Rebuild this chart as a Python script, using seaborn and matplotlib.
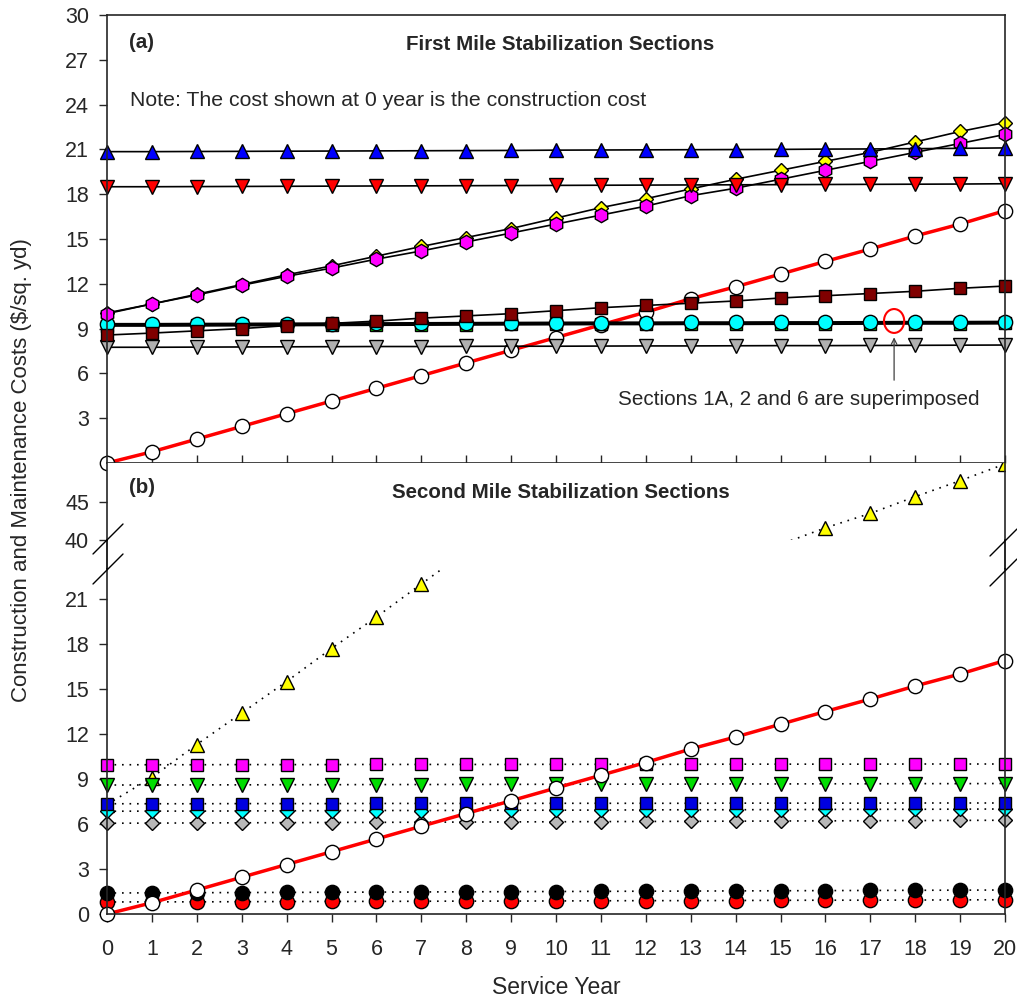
import matplotlib
matplotlib.use('Agg')
import matplotlib.pyplot as plt
import seaborn as sns
from matplotlib.lines import Line2D
from matplotlib.patches import Ellipse

# service years
years = list(range(21))

# (a) first mile sections
a_blue_up = [20.85, 20.85, 20.86, 20.87, 20.88, 20.89, 20.9, 20.91, 20.92, 20.93, 20.95,
             20.96, 20.97, 20.98, 20.99, 21.0, 21.02, 21.03, 21.05, 21.07, 21.1]
a_red_down = [18.5, 18.5, 18.51, 18.52, 18.53, 18.54, 18.55, 18.56, 18.57, 18.58, 18.59,
              18.6, 18.61, 18.62, 18.63, 18.64, 18.65, 18.66, 18.67, 18.68, 18.7]
a_yellow_dia = [10.05, 10.65, 11.3, 11.95, 12.6, 13.2, 13.85, 14.5, 15.1, 15.7, 16.4,
                17.1, 17.7, 18.35, 19.0, 19.6, 20.2, 20.8, 21.5, 22.2, 22.8]
a_pink_hex = [10.0, 10.65, 11.25, 11.9, 12.5, 13.05, 13.65, 14.2, 14.8, 15.4, 16.0,
              16.6, 17.2, 17.9, 18.4, 19.0, 19.6, 20.2, 20.8, 21.4, 22.0]
a_maroon_sq = [8.57, 8.7, 8.85, 9.0, 9.2, 9.35, 9.5, 9.7, 9.85, 10.0, 10.2,
               10.4, 10.55, 10.7, 10.85, 11.05, 11.2, 11.35, 11.5, 11.7, 11.85]
a_green_sq = [9.2, 9.2, 9.21, 9.22, 9.23, 9.24, 9.25, 9.26, 9.27, 9.28, 9.29,
              9.3, 9.3, 9.31, 9.31, 9.32, 9.32, 9.33, 9.34, 9.34, 9.35]
a_cyan_circ = [9.3, 9.3, 9.31, 9.32, 9.33, 9.34, 9.35, 9.36, 9.37, 9.38, 9.39,
               9.4, 9.4, 9.41, 9.41, 9.42, 9.42, 9.43, 9.44, 9.44, 9.45]
a_gray_down = [7.75, 7.75, 7.76, 7.77, 7.78, 7.79, 7.8, 7.8, 7.81, 7.82, 7.82,
               7.83, 7.84, 7.84, 7.85, 7.86, 7.86, 7.87, 7.88, 7.89, 7.9]
# control section, same in both panels
control = [0, 0.75, 1.6, 2.45, 3.3, 4.15, 5.0, 5.85, 6.7, 7.55, 8.4,
           9.25, 10.1, 11.0, 11.8, 12.65, 13.5, 14.33, 15.2, 16.0, 16.9]

# (b) second mile sections
b_magenta_sq = [9.95, 9.95, 9.95, 9.96, 9.96, 9.96, 9.97, 9.97, 9.97, 9.97, 9.98,
                9.98, 9.98, 9.98, 9.99, 9.99, 9.99, 9.99, 10.0, 10.0, 10.0]
b_green_down = [8.6, 8.6, 8.61, 8.61, 8.62, 8.62, 8.63, 8.63, 8.64, 8.64, 8.65,
                8.65, 8.66, 8.66, 8.67, 8.67, 8.68, 8.68, 8.69, 8.69, 8.7]
b_blue_sq = [7.35, 7.35, 7.35, 7.36, 7.36, 7.36, 7.37, 7.37, 7.37, 7.37, 7.38,
             7.38, 7.38, 7.38, 7.39, 7.39, 7.39, 7.39, 7.4, 7.4, 7.4]
b_cyan_dia = [6.85, 6.86, 6.86, 6.87, 6.88, 6.89, 6.9, 6.9, 6.91, 6.92, 6.92,
              6.93, 6.94, 6.95, 6.95, 6.96, 6.97, 6.98, 6.98, 6.99, 7.0]
b_gray_dia = [6.05, 6.06, 6.07, 6.08, 6.09, 6.1, 6.11, 6.12, 6.13, 6.14, 6.15,
              6.16, 6.17, 6.18, 6.19, 6.2, 6.21, 6.22, 6.23, 6.24, 6.25]
b_black_circ = [1.4, 1.41, 1.42, 1.43, 1.44, 1.45, 1.46, 1.47, 1.48, 1.49, 1.5,
                1.51, 1.52, 1.53, 1.54, 1.55, 1.56, 1.57, 1.58, 1.59, 1.6]
b_red_circ = [0.8, 0.81, 0.81, 0.82, 0.83, 0.84, 0.84, 0.85, 0.86, 0.86, 0.87,
              0.88, 0.89, 0.89, 0.9, 0.91, 0.92, 0.92, 0.93, 0.94, 0.95]
# yellow section: years 8-15 fall inside the axis break
b_yellow_years = [0, 1, 2, 3, 4, 5, 6, 7, 16, 17, 18, 19, 20]
b_yellow_tri = [7.3, 9.1, 11.3, 13.4, 15.5, 17.7, 19.8, 22.0, 41.6, 43.5, 45.7, 47.8, 50.0]

sns.set_style('ticks')
plt.rcParams['font.family'] = ['Liberation Sans', 'DejaVu Sans']
plt.rcParams['axes.linewidth'] = 1.2

W, H = 1017, 1002
fig = plt.figure(figsize=(W / 100, H / 100), dpi=100)


def fx(px):
    return px / W


def fy(py):
    return 1 - py / H


# marker sizes by shape
MS = {'o': 10.3, 'v': 9.6, '^': 9.6, 's': 8.9, 'D': 7.2, 'h': 10.3}
DOTTED = (0, (1, 3.5))

left, right = 107, 1005
ax_a = fig.add_axes([fx(left), fy(463), (right - left) / W, (463 - 15) / H])
ax_hi = fig.add_axes([fx(left), fy(540), (right - left) / W, (540 - 463) / H])
ax_lo = fig.add_axes([fx(left), fy(914), (right - left) / W, (914 - 569) / H])


def series(ax, x, y, marker, face, ls='-', lw=1.2, clip=False, color='black'):
    sns.lineplot(x=x, y=y, ax=ax, color=color, linestyle=ls, linewidth=lw,
                 marker=marker, markersize=MS[marker], markerfacecolor=face,
                 markeredgecolor='black', markeredgewidth=1, clip_on=clip)


# panel (a)
series(ax_a, years, control, 'o', 'white', lw=2.5, color='red')
series(ax_a, years, a_gray_down, 'v', '#b0b0b0')
series(ax_a, years, a_green_sq, 's', '#00cc00', lw=1.8)
series(ax_a, years, a_cyan_circ, 'o', 'cyan', lw=1.8)
series(ax_a, years, a_maroon_sq, 's', '#800000')
series(ax_a, years, a_yellow_dia, 'D', 'yellow')
series(ax_a, years, a_pink_hex, 'h', 'magenta')
series(ax_a, years, a_red_down, 'v', 'red')
series(ax_a, years, a_blue_up, '^', 'blue')

ax_a.set_xlim(0, 20)
ax_a.set_ylim(0, 30)
ax_a.set_xticks(years)
ax_a.set_yticks(range(3, 31, 3))
ax_a.tick_params(axis='x', direction='in', length=6, width=1, labelbottom=False)
ax_a.tick_params(axis='y', direction='out', length=6, width=1, labelsize=15.5, pad=7)
for s in ax_a.spines.values():
    s.set_visible(True)

ax_a.text(0.51, 24.25, 'Note: The cost shown at 0 year is the construction cost',
          fontsize=15.3, va='center')
ax_a.add_patch(Ellipse((17.53, 9.51), width=0.45, height=1.6, fill=False,
                       edgecolor='red', lw=1.5, zorder=5))
ax_a.annotate('', xy=(17.53, 8.6), xytext=(17.53, 5.36),
              arrowprops=dict(arrowstyle='->', color='#404040', lw=0.9))
ax_a.text(15.41, 4.22, 'Sections 1A, 2 and 6 are superimposed', fontsize=14.9,
          ha='center', va='center')

# panel (b) - both halves of the broken axis
for ax in (ax_hi, ax_lo):
    series(ax, b_yellow_years, b_yellow_tri, '^', 'yellow', ls=DOTTED, lw=1.2, clip=True)
    ax.set_xlim(0, 20)

for y, m, c in [(b_red_circ, 'o', 'red'), (b_black_circ, 'o', 'black'),
                (b_gray_dia, 'D', '#b8b8b8'), (b_cyan_dia, 'D', 'cyan'),
                (b_blue_sq, 's', '#0000e0'), (b_green_down, 'v', '#00dd00'),
                (b_magenta_sq, 's', 'magenta')]:
    series(ax_lo, years, y, m, c, ls=DOTTED, lw=1.2)
series(ax_lo, years, control, 'o', 'white', lw=2.5, color='red')

ax_hi.set_ylim(40, 50.13)
ax_hi.set_yticks([40, 45])
ax_hi.spines['top'].set_visible(False)
ax_hi.spines['bottom'].set_visible(False)
ax_hi.spines['right'].set_visible(True)
ax_hi.tick_params(axis='x', bottom=False, labelbottom=False)
ax_hi.tick_params(axis='y', direction='out', length=6, width=1, labelsize=15.5, pad=7)

ax_lo.set_ylim(0, 23.0)
ax_lo.set_yticks(range(0, 22, 3))
ax_lo.set_xticks(years)
ax_lo.spines['top'].set_visible(False)
ax_lo.spines['right'].set_visible(True)
ax_lo.tick_params(axis='both', direction='out', length=6, width=1, labelsize=15.5)
ax_lo.tick_params(axis='y', pad=7)
ax_lo.tick_params(axis='x', pad=12)

for ax in (ax_a, ax_hi, ax_lo):
    ax.set_xlabel('')
    ax.set_ylabel('')

# spine through the break and the break marks
for x in (left, right):
    fig.add_artist(Line2D([fx(x), fx(x)], [fy(540), fy(569)], color='black', lw=1.2))
for (x0, y0, x1, y1) in [(93, 554, 123, 524), (93, 584, 123, 554),
                         (990, 556, 1017, 529), (990, 586, 1017, 559)]:
    fig.add_artist(Line2D([fx(x0), fx(x1)], [fy(y0), fy(y1)], color='black', lw=1))

# panel labels and titles
fig.text(fx(129), fy(42), '(a)', fontsize=14.8, fontweight='bold', va='center')
fig.text(fx(560), fy(44), 'First Mile Stabilization Sections', fontsize=14.8,
         fontweight='bold', ha='center', va='center')
fig.text(fx(129), fy(487), '(b)', fontsize=14.8, fontweight='bold', va='center')
fig.text(fx(561), fy(493), 'Second Mile Stabilization Sections', fontsize=14.8,
         fontweight='bold', ha='center', va='center')

fig.text(fx(556), fy(988), 'Service Year', fontsize=16.5, ha='center', va='center')
fig.text(fx(22), fy(470), 'Construction and Maintenance Costs ($/sq. yd)', fontsize=16,
         rotation=90, ha='center', va='center')

fig.savefig('out.png', dpi=100)
